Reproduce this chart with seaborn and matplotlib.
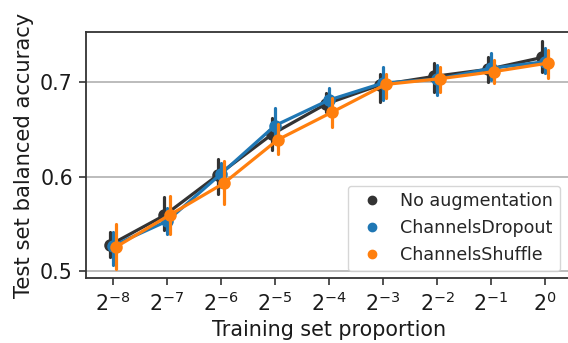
import numpy as np
import pandas as pd
import seaborn as sns
import matplotlib
matplotlib.use("Agg")
import matplotlib.pyplot as plt
from matplotlib.lines import Line2D

# ---------------- data ----------------
tick_labels = [r"$2^{-8}$", r"$2^{-7}$", r"$2^{-6}$", r"$2^{-5}$", r"$2^{-4}$",
               r"$2^{-3}$", r"$2^{-2}$", r"$2^{-1}$", r"$2^{0}$"]
series = ["No augmentation", "ChannelsDropout", "ChannelsShuffle"]
colors = ["#333333", "#1f77b4", "#ff7f0e"]

noaug_mean = [0.528, 0.559, 0.602, 0.645, 0.677, 0.697, 0.706, 0.7135, 0.726]
noaug_lo   = [0.515, 0.544, 0.582, 0.628, 0.668, 0.679, 0.690, 0.700, 0.711]
noaug_hi   = [0.541, 0.578, 0.619, 0.662, 0.688, 0.709, 0.720, 0.727, 0.743]

drop_mean = [0.527, 0.553, 0.603, 0.654, 0.681, 0.699, 0.703, 0.7145, 0.7215]
drop_lo   = [0.507, 0.539, 0.589, 0.638, 0.670, 0.681, 0.686, 0.702, 0.710]
drop_hi   = [0.542, 0.567, 0.614, 0.673, 0.694, 0.716, 0.718, 0.7305, 0.736]

shuf_mean = [0.5255, 0.5595, 0.593, 0.639, 0.668, 0.6975, 0.7035, 0.711, 0.720]
shuf_lo   = [0.502, 0.539, 0.571, 0.624, 0.652, 0.683, 0.690, 0.6985, 0.704]
shuf_hi   = [0.550, 0.580, 0.617, 0.656, 0.683, 0.709, 0.716, 0.723, 0.734]

# long table: lo / mean / hi per point -> median = mean, min/max = interval
rows = []
for name, lo, mid, hi in [(series[0], noaug_lo, noaug_mean, noaug_hi),
                          (series[1], drop_lo, drop_mean, drop_hi),
                          (series[2], shuf_lo, shuf_mean, shuf_hi)]:
    for lab, a, b, c in zip(tick_labels, lo, mid, hi):
        for v in (a, b, c):
            rows.append({"prop": lab, "method": name, "acc": v})
df = pd.DataFrame(rows)

# ---------------- figure ----------------
sns.set_style("ticks", {"axes.grid": True, "axes.edgecolor": "0.2",
                        "grid.color": "#b0b0b0"})
plt.rcParams["font.family"] = ["DejaVu Sans"]

W, H = 568, 343
fig = plt.figure(figsize=(W / 100, H / 100), dpi=100)
ax = fig.add_axes([86 / W, (H - 278) / H, 486 / W, 246 / H])

sns.pointplot(data=df, x="prop", y="acc", hue="method",
              order=tick_labels, hue_order=series, palette=colors,
              estimator="median",
              errorbar=lambda v: (np.min(v), np.max(v)),
              dodge=0.1, markersize=7.3, linewidth=2.3,
              err_kws={"linewidth": 2.3}, ax=ax, legend=False)

ax.set_xlim(-0.5, 8.5)
ax.set_ylim(0.4929, 0.7529)
ax.set_yticks([0.5, 0.6, 0.7])
ax.set_yticklabels(["0.5", "0.6", "0.7"])
ax.grid(axis="y", color="#b0b0b0", linewidth=1.2)
ax.grid(axis="x", visible=False)
for s in ax.spines.values():
    s.set_linewidth(1.3)
    s.set_color("0.2")
ax.tick_params(axis="both", labelsize=14.8, length=5, width=1.2, pad=4.5,
               color="0.2", labelcolor="0.1")
ax.set_xlabel("Training set proportion", fontsize=14.9, color="0.1")
ax.set_ylabel("Test set balanced accuracy", fontsize=15.2, color="0.1")

handles = [Line2D([], [], marker="o", linestyle="", color=c, markersize=6)
           for c in colors]
ax.legend(handles, series, loc="lower right", fontsize=12.6, frameon=True,
          handletextpad=0.6, borderaxespad=0.4, bbox_to_anchor=(0.99, 0.0))

fig.savefig("out.png", dpi=100)
